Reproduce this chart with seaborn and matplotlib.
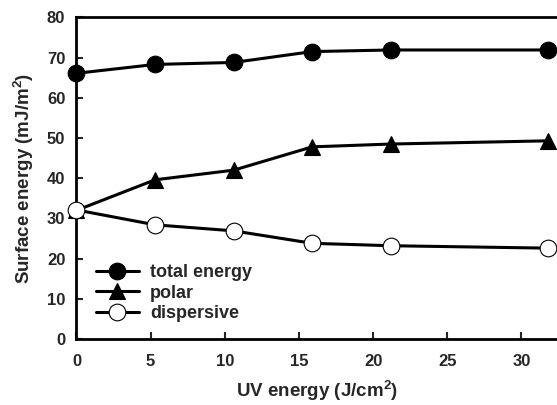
import matplotlib
matplotlib.use("Agg")
import matplotlib.pyplot as plt
import seaborn as sns
import pandas as pd

uv_energy = [0, 5.3, 10.6, 15.9, 21.2, 31.8]
total_energy = [66.1, 68.3, 68.8, 71.5, 71.9, 71.9]
polar = [32.0, 39.6, 42.0, 47.8, 48.5, 49.3]
dispersive = [32.1, 28.4, 26.9, 23.8, 23.2, 22.6]
series_names = ["total energy", "polar", "dispersive"]
x_ticks = [0, 5, 10, 15, 20, 25, 30]
y_ticks = [0, 10, 20, 30, 40, 50, 60, 70, 80]

sns.set_style("ticks")
plt.rcParams['font.family'] = ['Liberation Sans', 'DejaVu Sans']
plt.rcParams['font.weight'] = 'bold'
plt.rcParams['mathtext.fontset'] = 'custom'
plt.rcParams['mathtext.rm'] = 'Liberation Sans:bold'
plt.rcParams['mathtext.default'] = 'rm'

fig = plt.figure(figsize=(5.57, 4.05), dpi=100)
ax = fig.add_axes([0.1373, 0.163, 0.8627, 0.794])

styles = [
    dict(marker='o', markersize=12, markerfacecolor='black'),
    dict(marker='^', markersize=11, markerfacecolor='black'),
    dict(marker='o', markersize=12, markerfacecolor='white'),
]
for name, vals, st in zip(series_names, [total_energy, polar, dispersive], styles):
    df = pd.DataFrame({"x": uv_energy, "y": vals})
    sns.lineplot(data=df, x="x", y="y", ax=ax, color='black', linewidth=2.2,
                 markeredgecolor='black', markeredgewidth=0.8, label=name,
                 clip_on=False, zorder=3, **st)

ax.set_xlim(0, 32.4)
ax.set_ylim(0, 80)
ax.set_xticks(x_ticks)
ax.set_yticks(y_ticks)
ax.tick_params(direction='in', length=5, width=1.5, labelsize=12)
ax.tick_params(axis='x', pad=11)
ax.tick_params(axis='y', pad=8)
for lab in ax.get_xticklabels() + ax.get_yticklabels():
    lab.set_fontweight('bold')
for s in ['left', 'bottom', 'top']:
    ax.spines[s].set_linewidth(2)
    ax.spines[s].set_color('black')
ax.spines['right'].set_visible(False)

ax.set_xlabel(r"UV energy (J/cm$^2$)", fontsize=13.5, fontweight='bold', labelpad=7)
ax.set_ylabel(r"Surface energy (mJ/m$^2$)", fontsize=13.5, fontweight='bold', labelpad=8)

leg = ax.legend(loc='lower left', bbox_to_anchor=(0.025, 0.03), frameon=False,
                fontsize=13, handlelength=2.4, handletextpad=0.6, labelspacing=0.2,
                borderaxespad=0.0)
for t in leg.get_texts():
    t.set_fontweight('bold')

fig.savefig("out.png", dpi=100)
